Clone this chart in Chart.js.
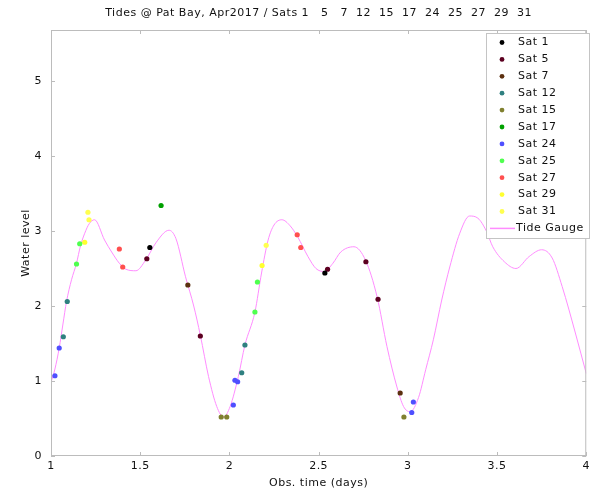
<!DOCTYPE html>
<html>
<head>
<meta charset="utf-8">
<title>Tides @ Pat Bay</title>
<script src="https://cdn.jsdelivr.net/npm/chart.js@4.4.0/dist/chart.umd.min.js"></script>
<style>
    html, body { margin: 0; padding: 0; background: #fff; }
    #wrap { width: 594px; height: 490px; }
</style>
</head>
<body>
<div id="wrap"><canvas id="tideChart" width="594" height="490"></canvas></div>
<script>
// tide gauge + satellite water level, Pat Bay Apr 2017

const satIds = [1, 5, 7, 12, 15, 17, 24, 25, 27, 29, 31];
const satColors = ['#000000', '#5c0020', '#5c3010', '#2f8080', '#80802f', '#00a000',
                   '#4f4fff', '#4fff4f', '#ff4f4f', '#ffff2f', '#ffff4f'];

// obs time (days) per satellite
const satTimes = [
    [1.554, 2.535],
    [1.537, 1.837, 2.550, 2.765, 2.833],
    [1.767, 2.957],
    [1.069, 1.091, 2.069, 2.087],
    [1.954, 1.985, 2.978],
    [1.617],
    [1.022, 1.046, 2.022, 2.031, 2.046, 3.022, 3.031],
    [1.143, 1.161, 2.143, 2.157],
    [1.383, 1.402, 2.380, 2.400],
    [1.189, 2.183],
    [1.207, 1.213, 2.206]
];
// water level per satellite
const satLevels = [
    [2.78, 2.44],
    [2.63, 1.60, 2.49, 2.59, 2.09],
    [2.28, 0.84],
    [1.59, 2.06, 1.11, 1.48],
    [0.52, 0.52, 0.52],
    [3.34],
    [1.07, 1.44, 0.68, 1.01, 0.99, 0.58, 0.72],
    [2.56, 2.83, 1.92, 2.32],
    [2.76, 2.52, 2.95, 2.78],
    [2.85, 2.54],
    [3.25, 3.15, 2.81]
];

const tideTimes = [1.000, 1.022, 1.046, 1.067, 1.087, 1.115, 1.143, 1.165, 1.189, 1.215,
                   1.244, 1.300, 1.340, 1.383, 1.420, 1.476, 1.530, 1.590, 1.661, 1.700,
                   1.754, 1.800, 1.837, 1.883, 1.929, 1.967, 2.004, 2.050, 2.087, 2.143,
                   2.180, 2.217, 2.250, 2.294, 2.340, 2.383, 2.440, 2.485, 2.532, 2.580,
                   2.624, 2.698, 2.763, 2.828, 2.883, 2.939, 2.976, 3.013, 3.060, 3.100,
                   3.143, 3.190, 3.235, 3.291, 3.346, 3.393, 3.440, 3.476, 3.541, 3.606,
                   3.680, 3.750, 3.809, 3.865, 3.939, 4.000];
const tideLevels = [0.98, 1.16, 1.44, 1.76, 2.06, 2.35, 2.57, 2.80, 2.97, 3.10,
                    3.15, 2.88, 2.72, 2.57, 2.49, 2.47, 2.61, 2.85, 3.01, 2.90,
                    2.39, 2.00, 1.61, 1.06, 0.66, 0.52, 0.66, 1.06, 1.48, 1.92,
                    2.44, 2.88, 3.08, 3.15, 3.07, 2.92, 2.66, 2.50, 2.46, 2.57,
                    2.72, 2.79, 2.61, 2.12, 1.46, 0.92, 0.66, 0.59, 0.78, 1.15,
                    1.55, 2.08, 2.52, 2.97, 3.20, 3.17, 3.00, 2.79, 2.59, 2.50,
                    2.66, 2.75, 2.64, 2.26, 1.64, 1.10];

const xTicks = [1, 1.5, 2, 2.5, 3, 3.5, 4];
const yTicks = [0, 1, 2, 3, 4, 5];

const FONT = 'DejaVu Sans';
const SPACING = '0.5px';
const titleText = 'Tides @ Pat Bay, Apr2017 / Sats ' +
    satIds.map((v, i) => i === 0 ? String(v) : String(v).padStart(4)).join('');

const datasets = satIds.map((id, i) => ({
    label: 'Sat ' + id,
    data: satTimes[i].map((t, j) => ({ x: t, y: satLevels[i][j] })),
    backgroundColor: satColors[i],
    borderWidth: 0,
    pointRadius: 2.6
}));
datasets.push({
    type: 'line',
    label: 'Tide Gauge',
    data: tideTimes.map((t, j) => ({ x: t, y: tideLevels[j] })),
    borderColor: '#ff8cff',
    borderWidth: 1,
    pointRadius: 0,
    fill: false,
    cubicInterpolationMode: 'monotone'
});

// slightly wider text like the octave renderer
const spacingPlugin = {
    id: 'spacing',
    beforeLayout(chart) { chart.ctx.letterSpacing = SPACING; },
    beforeDraw(chart) { chart.ctx.letterSpacing = SPACING; }
};

// octave-ish frame, inward ticks, title and legend box
const framePlugin = {
    id: 'frame',
    afterDraw(chart) {
        const { ctx, chartArea: a, scales } = chart;
        ctx.save();
        ctx.letterSpacing = SPACING;
        ctx.strokeStyle = '#bcbcbc';
        ctx.lineWidth = 1;
        ctx.strokeRect(a.left + 0.5, a.top + 0.5, a.right - a.left - 1, a.bottom - a.top - 1);
        ctx.beginPath();
        xTicks.forEach(v => {
            const px = Math.round(scales.x.getPixelForValue(v)) + 0.5;
            ctx.moveTo(px, a.bottom); ctx.lineTo(px, a.bottom - 4);
            ctx.moveTo(px, a.top); ctx.lineTo(px, a.top + 4);
        });
        yTicks.forEach(v => {
            const py = Math.round(scales.y.getPixelForValue(v)) + 0.5;
            ctx.moveTo(a.left, py); ctx.lineTo(a.left + 4, py);
            ctx.moveTo(a.right, py); ctx.lineTo(a.right - 4, py);
        });
        ctx.stroke();

        // title
        ctx.fillStyle = '#111';
        ctx.font = '11px "' + FONT + '"';
        ctx.textAlign = 'center';
        ctx.textBaseline = 'middle';
        ctx.fillText(titleText, (a.left + a.right) / 2, 13);

        // legend
        const bx = 486, by = 33, bw = 103, bh = 205, rowH = 16.9;
        ctx.fillStyle = '#fff';
        ctx.fillRect(bx, by, bw, bh);
        ctx.strokeStyle = '#c4c4c4';
        ctx.strokeRect(bx + 0.5, by + 0.5, bw, bh);
        ctx.font = '11px "' + FONT + '"';
        ctx.textAlign = 'left';
        chart.data.datasets.forEach((ds, i) => {
            const y = by + 9.5 + i * rowH;
            if (ds.type === 'line') {
                ctx.strokeStyle = ds.borderColor;
                ctx.lineWidth = 1.5;
                ctx.beginPath();
                ctx.moveTo(bx + 4, y); ctx.lineTo(bx + 29, y);
                ctx.stroke();
                ctx.fillStyle = '#111';
                ctx.fillText(ds.label, bx + 30, y);
            } else {
                ctx.fillStyle = ds.backgroundColor;
                ctx.beginPath();
                ctx.arc(bx + 16, y, 2.4, 0, Math.PI * 2);
                ctx.fill();
                ctx.fillStyle = '#111';
                ctx.fillText(ds.label, bx + 32, y);
            }
        });
        ctx.restore();
    }
};

new Chart(document.getElementById('tideChart'), {
    type: 'scatter',
    data: { datasets },
    options: {
        responsive: false,
        animation: false,
        devicePixelRatio: 1,
        layout: { padding: { top: 30, right: 3, left: 0, bottom: 0 } },
        scales: {
            x: {
                type: 'linear',
                min: 1,
                max: 4,
                afterFit: s => { s.height = 34; },
                afterBuildTicks: s => { s.ticks = xTicks.map(v => ({ value: v })); },
                grid: { display: false, drawTicks: false },
                border: { display: false },
                ticks: {
                    padding: 4,
                    color: '#111',
                    font: { family: FONT, size: 11 },
                    maxRotation: 0,
                    callback: v => String(v)
                },
                title: {
                    display: true,
                    text: 'Obs. time (days)',
                    color: '#111',
                    font: { family: FONT, size: 11 },
                    padding: { top: 0, bottom: 0 }
                }
            },
            y: {
                min: 0,
                max: 5.68,
                afterFit: s => { s.width = 51; },
                afterBuildTicks: s => { s.ticks = yTicks.map(v => ({ value: v })); },
                grid: { display: false, drawTicks: false },
                border: { display: false },
                ticks: {
                    padding: 9,
                    color: '#111',
                    font: { family: FONT, size: 11 },
                    callback: v => String(v)
                },
                title: {
                    display: true,
                    text: 'Water level',
                    color: '#111',
                    font: { family: FONT, size: 11 },
                    padding: { top: 20, bottom: 0 }
                }
            }
        },
        plugins: {
            legend: { display: false },
            tooltip: { enabled: false }
        }
    },
    plugins: [spacingPlugin, framePlugin]
});
</script>
</body>
</html>
